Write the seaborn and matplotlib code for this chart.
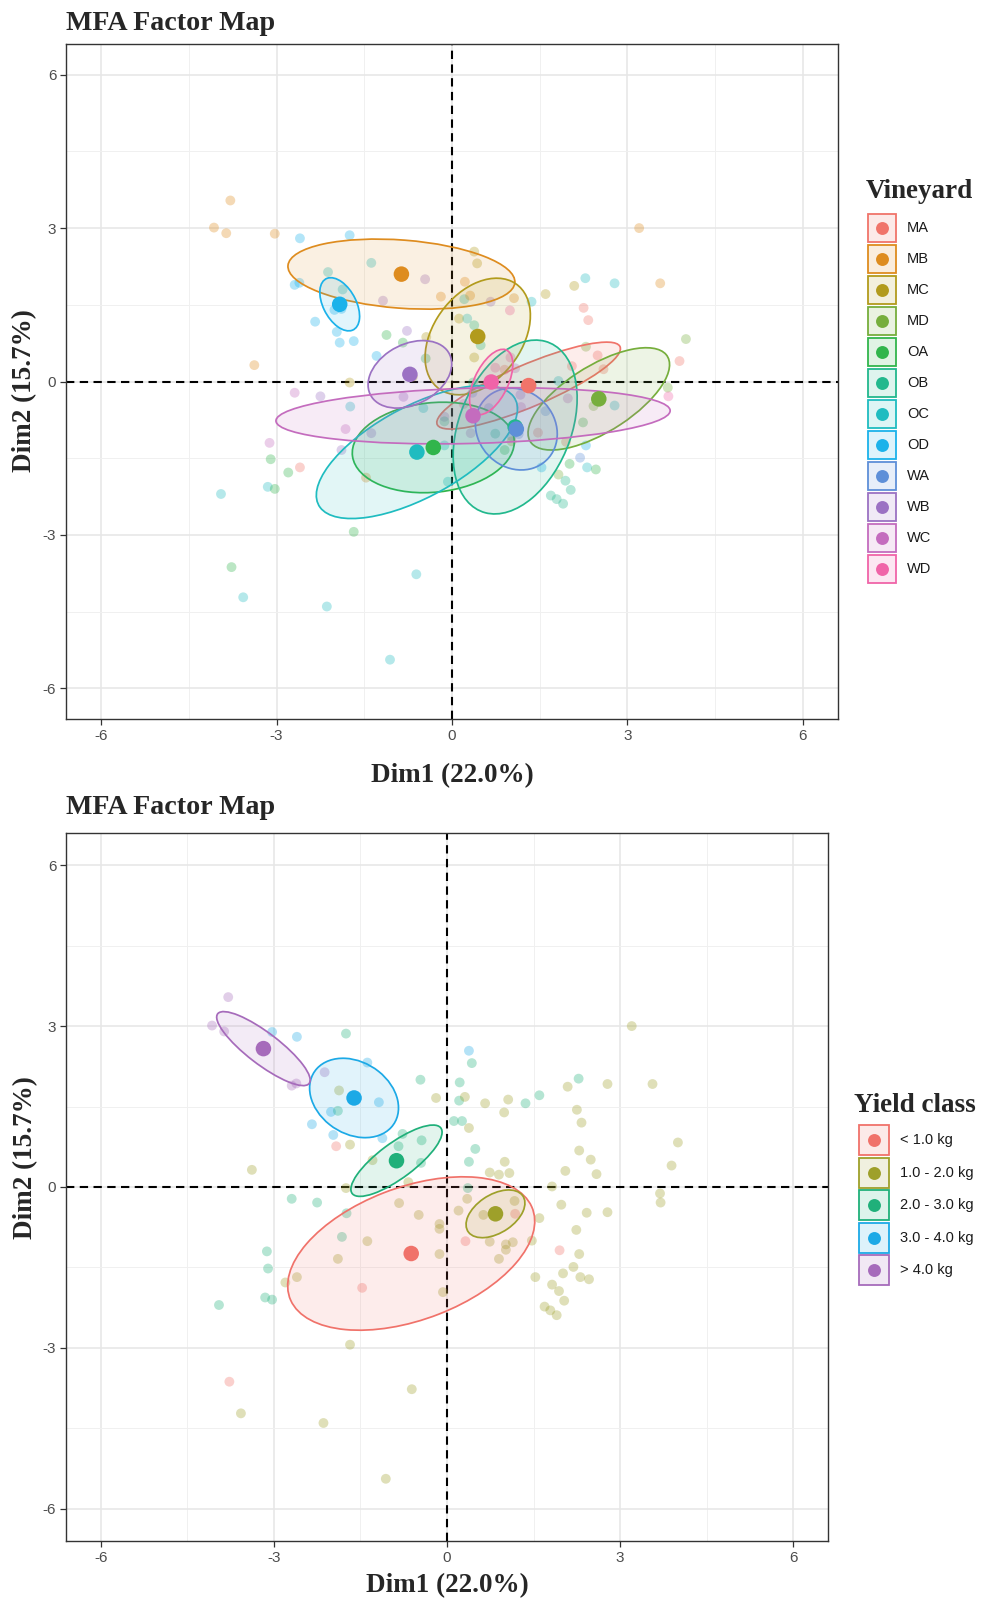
import numpy as np
import pandas as pd
import matplotlib
matplotlib.use("Agg")
import matplotlib.pyplot as plt
import seaborn as sns
from matplotlib.patches import Ellipse, Rectangle
from matplotlib.lines import Line2D
from matplotlib.legend_handler import HandlerBase
from matplotlib.colors import to_rgba

# ---------------- individuals (same coordinates in both maps) ----------------
dim1 = [-3.79, -4.07, -3.86, -2.12, -2.69, -2.61, -3.03, -2.60, -1.38, -1.18,
        -2.01, -2.34, -1.97, -1.12, 0.38, -1.75, -1.89, -0.46, -0.77, -0.84,
        -0.44, -0.45, 0.43, 0.22, 0.21, 0.12, 0.26, 0.49, 0.38, 1.36,
        1.60, 2.28, 0.36, -2.69, -2.25, -1.74, -1.82, -3.12, -3.10, -3.15,
        -3.03, -3.95, -1.92, 1.18, 0.32, 1.95, -1.47, -3.77, -1.87, -1.68,
        -0.19, -1.29, -3.38, 0.31, 0.66, 0.38, 1.06, 0.99, 2.09, 2.78,
        3.56, 3.20, 2.25, 2.33, 1.00, 0.74, 0.90, 1.08, 2.29, 2.49,
        2.59, 2.05, 4.00, 3.89, 1.82, 3.69, 3.70, 0.35, 0.20, 0.63,
        1.17, 1.60, 1.98, 2.42, 2.78, 2.24, 0.74, 1.02, 1.14, 1.02,
        0.90, 1.47, 2.29, 2.19, 2.01, 2.31, 2.46, 1.53, 1.82, 1.94,
        2.03, 1.69, 1.79, 1.90, -0.13, -0.13, -0.13, -0.07, -0.67, -1.75,
        -0.83, -0.49, -1.38, -1.89, -2.60, -2.80, -1.68, -3.57, -2.14, -0.61,
        -1.06]
dim2 = [3.54, 3.01, 2.90, 2.14, 1.89, 1.93, 2.89, 2.80, 2.32, 1.58,
        1.40, 1.17, 0.97, 0.91, 2.54, 2.86, 1.42, 2.00, 0.99, 0.76,
        0.87, 0.45, 2.31, 1.95, 1.61, 1.23, 1.23, 0.71, 0.47, 1.56,
        1.71, 2.02, -0.02, -0.22, -0.29, -0.49, -0.93, -1.20, -1.52, -2.06,
        -2.10, -2.20, 0.76, -0.50, -1.01, -1.18, -1.88, -3.63, 1.80, 0.79,
        1.66, 0.50, 0.32, 1.68, 1.56, 1.10, 1.63, 1.39, 1.87, 1.92,
        1.92, 3.00, 1.44, 1.20, 0.47, 0.27, 0.23, 0.26, 0.68, 0.51,
        0.24, 0.30, 0.83, 0.40, 0.01, -0.12, -0.29, -0.22, -0.44, -0.52,
        -0.26, -0.58, -0.33, -0.48, -0.47, -0.80, -1.02, -1.07, -1.03, -1.17,
        -1.34, -1.00, -1.25, -1.49, -1.61, -1.68, -1.72, -1.68, -1.82, -1.94,
        -2.12, -2.23, -2.30, -2.39, -0.69, -0.78, -1.25, -1.96, 0.09, -0.02,
        -0.30, -0.52, -1.01, -1.34, -1.68, -1.78, -2.94, -4.22, -4.40, -3.77,
        -5.44]
vineyard = ["MB", "MB", "MB", "OC", "OD", "OD", "MB", "OD", "OC", "WB",
            "OD", "OD", "OD", "OA", "MC", "OD", "OD", "WB", "WB", "OA",
            "MC", "OA", "MC", "MB", "OC", "MC", "OC", "OB", "MC", "OC",
            "MC", "OC", "OB", "WC", "WB", "OC", "WC", "WC", "OA", "OC",
            "OA", "OC", "OD", "WC", "WC", "MA", "MB", "OA", "OC", "OD",
            "MB", "OD", "MB", "MB", "WB", "OB", "MB", "WD", "MC", "OC",
            "MB", "MB", "MA", "MA", "WD", "WD", "MA", "WC", "MD", "MA",
            "MA", "MA", "MD", "MA", "OC", "MD", "WD", "WA", "WD", "WA",
            "WB", "WA", "WC", "MD", "OC", "OA", "OB", "WA", "WA", "MC",
            "OA", "MA", "OD", "WA", "OA", "OC", "OA", "OD", "MD", "OB",
            "OB", "OB", "OB", "OB", "WB", "OB", "OC", "OC", "MC", "MC",
            "WB", "OC", "WB", "WB", "MA", "OA", "OA", "OC", "OC", "OC",
            "OC"]
yield_class = (["> 4.0 kg"] * 6 + ["3.0 - 4.0 kg"] * 9 + ["2.0 - 3.0 kg"] * 27
               + ["< 1.0 kg"] * 6 + ["1.0 - 2.0 kg"] * 73)

# ---------------- vineyard groups: centroids and confidence ellipses ----------------
vy_names = ["MA", "MB", "MC", "MD", "OA", "OB", "OC", "OD", "WA", "WB", "WC", "WD"]
vy_colors = ["#F0746A", "#DE8C1F", "#B29B1C", "#76AE3C", "#31B54C", "#22B88D",
             "#1FBCC0", "#1BB2EA", "#5E8FD8", "#9B72C3", "#C46CBE", "#F064A8"]
vy_cx = [1.31, -0.865, 0.44, 2.51, -0.32, 1.08, -0.60, -1.92, 1.10, -0.72, 0.36, 0.67]
vy_cy = [-0.08, 2.10, 0.88, -0.34, -1.29, -0.89, -1.38, 1.51, -0.93, 0.14, -0.67, -0.01]
vy_sx = [1.57, 1.94, 0.90, 1.21, 1.385, 1.06, 1.72, 0.34, 0.70, 0.715, 3.37, 0.37]
vy_sy = [0.85, 0.685, 1.14, 1.00, 0.885, 1.70, 1.30, 0.52, 0.80, 0.66, 0.55, 0.64]
vy_r = [0.85, -0.22, 0.36, 0.67, 0.12, 0.33, 0.65, -0.45, -0.12, 0.31, 0.18, 0.54]

# ---------------- yield classes ----------------
yc_names = ["< 1.0 kg", "1.0 - 2.0 kg", "2.0 - 3.0 kg", "3.0 - 4.0 kg", "> 4.0 kg"]
yc_colors = ["#F0726A", "#9EA02A", "#20B07A", "#1CA9E6", "#A66BBB"]
yc_cx = [-0.62, 0.84, -0.875, -1.61, -3.18]
yc_cy = [-1.24, -0.50, 0.49, 1.66, 2.58]
yc_sx = [2.14, 0.51, 0.79, 0.77, 0.81]
yc_sy = [1.43, 0.445, 0.665, 0.74, 0.69]
yc_r = [0.42, 0.45, 0.80, -0.25, -0.85]

ticks = [-6, -3, 0, 3, 6]
tick_labels = ["-6", "-3", "0", "3", "6"]
title_text = "MFA Factor Map"
xlab = "Dim1 (22.0%)"
ylab = "Dim2 (15.7%)"

df = pd.DataFrame({"Dim1": dim1, "Dim2": dim2, "Vineyard": vineyard, "Yield": yield_class})

sns.set_theme(style="white")
plt.rcParams['font.family'] = ['Liberation Sans', 'DejaVu Sans']
plt.rcParams['axes.unicode_minus'] = False

SERIF = {'family': 'Liberation Serif', 'weight': 'bold', 'size': 19.5}
TITLE = {'family': 'Liberation Serif', 'weight': 'bold', 'size': 20.2}

W, H = 982, 1598
fig = plt.figure(figsize=(W / 100, H / 100), dpi=100)
ax1 = fig.add_axes([66 / W, 1 - 719 / H, 772 / W, 675 / H])
ax2 = fig.add_axes([66 / W, 1 - 1541 / H, 762 / W, 708 / H])


def ell_params(sx, sy, r):
    cov = np.array([[sx ** 2, r * sx * sy], [r * sx * sy, sy ** 2]])
    vals, vecs = np.linalg.eigh(cov)
    i = int(np.argmax(vals))
    v = vecs[:, i]
    return 2 * np.sqrt(vals[i]), 2 * np.sqrt(vals[1 - i]), np.degrees(np.arctan2(v[1], v[0]))


def panel(ax, hue_col, names, colors, cx, cy, sx, sy, r):
    pal = dict(zip(names, colors))
    ax.axhline(0, color='black', lw=1.5, ls=(0, (4, 2.6)), zorder=1.5)
    ax.axvline(0, color='black', lw=1.5, ls=(0, (4, 2.6)), zorder=1.5)
    sns.scatterplot(data=df, x="Dim1", y="Dim2", hue=hue_col, hue_order=names,
                    palette=pal, s=50, alpha=0.33, linewidth=0, legend=False,
                    ax=ax, zorder=2)
    for i, n in enumerate(names):
        w, h, ang = ell_params(sx[i], sy[i], r[i])
        ax.add_patch(Ellipse((cx[i], cy[i]), w, h, angle=ang,
                             facecolor=to_rgba(colors[i], 0.13),
                             edgecolor=colors[i], lw=1.25, zorder=3))
    cdf = pd.DataFrame({"x": cx, "y": cy, "g": names})
    sns.scatterplot(data=cdf, x="x", y="y", hue="g", hue_order=names, palette=pal,
                    s=125, linewidth=0, legend=False, ax=ax, zorder=4)
    ax.set_xlim(-6.6, 6.6)
    ax.set_ylim(-6.6, 6.6)
    ax.set_xticks(ticks)
    ax.set_xticklabels(tick_labels)
    ax.set_yticks(ticks)
    ax.set_yticklabels(tick_labels)
    ax.set_xticks([-4.5, -1.5, 1.5, 4.5], minor=True)
    ax.set_yticks([-4.5, -1.5, 1.5, 4.5], minor=True)
    ax.grid(which='major', color='#E6E6E6', lw=1.1)
    ax.grid(which='minor', color='#F0F0F0', lw=0.7)
    ax.set_axisbelow(True)
    ax.tick_params(which='major', direction='out', length=4, width=0.9,
                   color='#333333', labelsize=11, labelcolor='#4D4D4D', pad=3,
                   left=True, bottom=True)
    ax.tick_params(which='minor', length=0)
    for sp in ax.spines.values():
        sp.set_color('#333333')
        sp.set_linewidth(1.0)
    ax.set_xlabel(xlab, fontdict=SERIF)
    ax.set_ylabel(ylab, fontdict=SERIF)


panel(ax1, "Vineyard", vy_names, vy_colors, vy_cx, vy_cy, vy_sx, vy_sy, vy_r)
panel(ax2, "Yield", yc_names, yc_colors, yc_cx, yc_cy, yc_sx, yc_sy, yc_r)

ax1.xaxis.set_label_coords(0.5, -0.066)
ax1.yaxis.set_label_coords(-0.037, 0.487)
ax2.xaxis.set_label_coords(0.5, -0.045)
ax2.yaxis.set_label_coords(-0.037, 0.541)

fig.text(66 / W, 1 - 23 / H, title_text, fontdict=TITLE, ha='left', va='center')
fig.text(66 / W, 1 - 807 / H, title_text, fontdict=TITLE, ha='left', va='center')


class BoxDot(HandlerBase):
    """Legend key: tinted square with coloured border and a centred dot."""
    def create_artists(self, legend, orig_handle, xdescent, ydescent, width,
                       height, fontsize, trans):
        c = orig_handle.get_color()
        rect = Rectangle((-xdescent, -ydescent), width, height,
                         facecolor=to_rgba(c, 0.15), edgecolor=c, lw=1.3,
                         transform=trans)
        dot = Line2D([-xdescent + width / 2], [-ydescent + height / 2],
                     marker='o', linestyle='', markersize=9.3,
                     markerfacecolor=c, markeredgewidth=0, transform=trans)
        return [rect, dot]


def make_legend(names, colors, title, tx, ty, lx, ly, box_px, row_px):
    fs = 10.5
    box_pt = box_px * 0.72
    hl = box_pt / fs
    hh = (hl - 0.245) / 0.65
    ls = (row_px * 0.72 - box_pt) / fs
    handles = [Line2D([], [], color=c) for c in colors]
    leg = fig.legend(handles, names, handler_map={Line2D: BoxDot()},
                     loc='upper left', bbox_to_anchor=(lx / W, 1 - ly / H),
                     frameon=False, fontsize=fs, handlelength=hl, handleheight=hh,
                     labelspacing=ls, handletextpad=0.75, borderpad=0,
                     borderaxespad=0, labelcolor='#1A1A1A')
    fig.text(tx / W, 1 - ty / H, title, fontdict=SERIF, ha='left', va='center')
    return leg


make_legend(vy_names, vy_colors, "Vineyard", 866, 192, 868, 214, 28, 31)
make_legend(yc_names, yc_colors, "Yield class", 854, 1105, 859, 1125, 30, 32.5)

fig.savefig("out.png", dpi=100)
